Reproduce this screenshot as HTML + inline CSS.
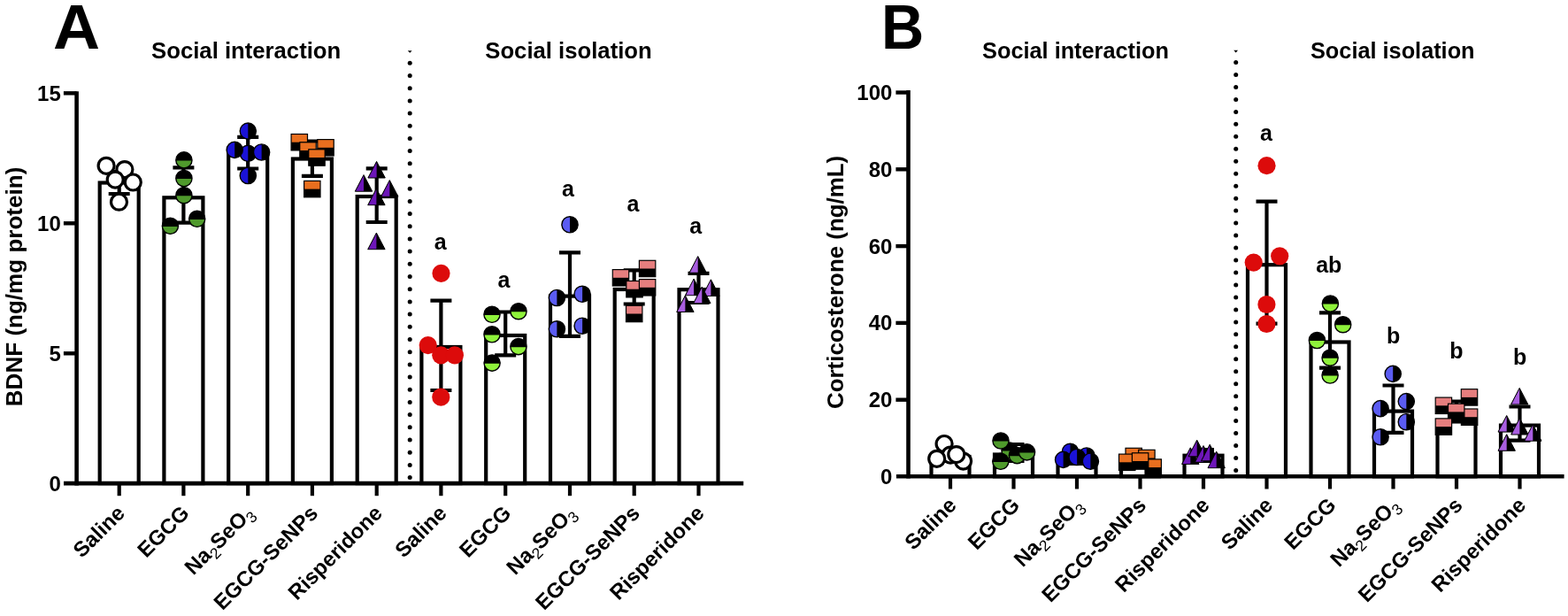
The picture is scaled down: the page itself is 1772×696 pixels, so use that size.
<!DOCTYPE html>
<html><head><meta charset="utf-8"><title>BDNF and corticosterone</title>
<style>html,body{margin:0;padding:0;background:#fff;}body{width:1772px;height:696px;overflow:hidden;}svg{display:block;}</style>
</head><body>
<svg width="1772" height="696" viewBox="0 0 1772 696">
<rect width="1772" height="696" fill="#fff"/>
<text transform="translate(60.1,55.0) scale(1.035,1)" font-size="71" font-family="'Liberation Sans', Arial, Helvetica, sans-serif" font-weight="bold">A</text>
<text x="171.1" y="65.6" font-size="25.7" text-anchor="start" font-family="'Liberation Sans', Arial, Helvetica, sans-serif" font-weight="bold" >Social interaction</text>
<text x="548.3" y="66.1" font-size="25.7" text-anchor="start" font-family="'Liberation Sans', Arial, Helvetica, sans-serif" font-weight="bold" >Social isolation</text>
<text transform="translate(25.4,459.2) rotate(-90)" font-size="26.05" font-family="'Liberation Sans', Arial, Helvetica, sans-serif" font-weight="bold">BDNF (ng/mg protein)</text>
<path d="M460.8,57.2 H465.6 L463.2,59.8 Z" fill="#000"/>
<circle cx="463.2" cy="71.3" r="2.5" fill="#000"/>
<circle cx="463.2" cy="85.5" r="2.5" fill="#000"/>
<circle cx="463.2" cy="99.7" r="2.5" fill="#000"/>
<circle cx="463.2" cy="113.9" r="2.5" fill="#000"/>
<circle cx="463.2" cy="128.1" r="2.5" fill="#000"/>
<circle cx="463.2" cy="142.2" r="2.5" fill="#000"/>
<circle cx="463.2" cy="156.4" r="2.5" fill="#000"/>
<circle cx="463.2" cy="170.6" r="2.5" fill="#000"/>
<circle cx="463.2" cy="184.8" r="2.5" fill="#000"/>
<circle cx="463.2" cy="199.0" r="2.5" fill="#000"/>
<circle cx="463.2" cy="213.2" r="2.5" fill="#000"/>
<circle cx="463.2" cy="227.4" r="2.5" fill="#000"/>
<circle cx="463.2" cy="241.6" r="2.5" fill="#000"/>
<circle cx="463.2" cy="255.8" r="2.5" fill="#000"/>
<circle cx="463.2" cy="270.0" r="2.5" fill="#000"/>
<circle cx="463.2" cy="284.1" r="2.5" fill="#000"/>
<circle cx="463.2" cy="298.3" r="2.5" fill="#000"/>
<circle cx="463.2" cy="312.5" r="2.5" fill="#000"/>
<circle cx="463.2" cy="326.7" r="2.5" fill="#000"/>
<circle cx="463.2" cy="340.9" r="2.5" fill="#000"/>
<circle cx="463.2" cy="355.1" r="2.5" fill="#000"/>
<circle cx="463.2" cy="369.3" r="2.5" fill="#000"/>
<circle cx="463.2" cy="383.5" r="2.5" fill="#000"/>
<circle cx="463.2" cy="397.7" r="2.5" fill="#000"/>
<circle cx="463.2" cy="411.9" r="2.5" fill="#000"/>
<circle cx="463.2" cy="426.0" r="2.5" fill="#000"/>
<circle cx="463.2" cy="440.2" r="2.5" fill="#000"/>
<circle cx="463.2" cy="454.4" r="2.5" fill="#000"/>
<circle cx="463.2" cy="468.6" r="2.5" fill="#000"/>
<circle cx="463.2" cy="482.8" r="2.5" fill="#000"/>
<circle cx="463.2" cy="497.0" r="2.5" fill="#000"/>
<circle cx="463.2" cy="511.2" r="2.5" fill="#000"/>
<circle cx="463.2" cy="525.4" r="2.5" fill="#000"/>
<circle cx="463.2" cy="539.6" r="2.5" fill="#000"/>
<rect x="112.7" y="206.5" width="44.0" height="339.6" fill="#fff" stroke="#000" stroke-width="4.2"/>
<path d="M134.7,194.0 V219.0 M122.7,194.0 H146.7 M122.7,219.0 H146.7" stroke="#000" stroke-width="4.2" fill="none"/>
<circle cx="120.1" cy="187.3" r="9.0" fill="#fff" stroke="#000" stroke-width="3.2"/>
<circle cx="140.9" cy="191.6" r="9.0" fill="#fff" stroke="#000" stroke-width="3.2"/>
<circle cx="130.2" cy="203.1" r="9.0" fill="#fff" stroke="#000" stroke-width="3.2"/>
<circle cx="150.3" cy="206.0" r="9.0" fill="#fff" stroke="#000" stroke-width="3.2"/>
<circle cx="134.5" cy="228.2" r="9.0" fill="#fff" stroke="#000" stroke-width="3.2"/>
<rect x="185.4" y="223.3" width="44.0" height="322.8" fill="#fff" stroke="#000" stroke-width="4.2"/>
<path d="M207.4,189.3 V251.6 M195.4,189.3 H219.4 M195.4,251.6 H219.4" stroke="#000" stroke-width="4.2" fill="none"/>
<circle cx="207.9" cy="180.9" r="9.1" fill="#000"/>
<path d="M198.82,181.5 A9.1,9.1 0 0 0 216.98,181.5 Z" fill="#4f9a2c"/>
<circle cx="207.9" cy="180.9" r="9.1" fill="none" stroke="#000" stroke-width="1.4"/>
<circle cx="207.9" cy="201.5" r="9.1" fill="#000"/>
<path d="M198.82,202.1 A9.1,9.1 0 0 0 216.98,202.1 Z" fill="#4f9a2c"/>
<circle cx="207.9" cy="201.5" r="9.1" fill="none" stroke="#000" stroke-width="1.4"/>
<circle cx="207.9" cy="220.7" r="9.1" fill="#000"/>
<path d="M198.82,221.3 A9.1,9.1 0 0 0 216.98,221.3 Z" fill="#4f9a2c"/>
<circle cx="207.9" cy="220.7" r="9.1" fill="none" stroke="#000" stroke-width="1.4"/>
<circle cx="222.7" cy="247.3" r="9.1" fill="#000"/>
<path d="M213.62,247.9 A9.1,9.1 0 0 0 231.78,247.9 Z" fill="#4f9a2c"/>
<circle cx="222.7" cy="247.3" r="9.1" fill="none" stroke="#000" stroke-width="1.4"/>
<circle cx="192.4" cy="255.3" r="9.1" fill="#000"/>
<path d="M183.32,255.9 A9.1,9.1 0 0 0 201.48,255.9 Z" fill="#4f9a2c"/>
<circle cx="192.4" cy="255.3" r="9.1" fill="none" stroke="#000" stroke-width="1.4"/>
<rect x="258.2" y="172.7" width="44.0" height="373.4" fill="#fff" stroke="#000" stroke-width="4.2"/>
<path d="M280.2,154.9 V190.5 M268.2,154.9 H292.2 M268.2,190.5 H292.2" stroke="#000" stroke-width="4.2" fill="none"/>
<circle cx="280.3" cy="148.1" r="9.1" fill="#000"/>
<path d="M280.3,139.0 A9.1,9.1 0 0 0 280.3,157.2 Z" fill="#1a12d6"/>
<circle cx="280.3" cy="148.1" r="9.1" fill="none" stroke="#000" stroke-width="1.4"/>
<circle cx="280.3" cy="173.3" r="9.1" fill="#000"/>
<path d="M280.3,164.2 A9.1,9.1 0 0 0 280.3,182.4 Z" fill="#1a12d6"/>
<circle cx="280.3" cy="173.3" r="9.1" fill="none" stroke="#000" stroke-width="1.4"/>
<circle cx="265.2" cy="169.4" r="9.1" fill="#000"/>
<path d="M265.2,160.3 A9.1,9.1 0 0 0 265.2,178.5 Z" fill="#1a12d6"/>
<circle cx="265.2" cy="169.4" r="9.1" fill="none" stroke="#000" stroke-width="1.4"/>
<circle cx="295.6" cy="172.0" r="9.1" fill="#000"/>
<path d="M295.6,162.9 A9.1,9.1 0 0 0 295.6,181.1 Z" fill="#1a12d6"/>
<circle cx="295.6" cy="172.0" r="9.1" fill="none" stroke="#000" stroke-width="1.4"/>
<circle cx="280.3" cy="198.5" r="9.1" fill="#000"/>
<path d="M280.3,189.4 A9.1,9.1 0 0 0 280.3,207.6 Z" fill="#1a12d6"/>
<circle cx="280.3" cy="198.5" r="9.1" fill="none" stroke="#000" stroke-width="1.4"/>
<rect x="330.9" y="179.5" width="44.0" height="366.6" fill="#fff" stroke="#000" stroke-width="4.2"/>
<path d="M352.9,159.5 V198.8 M340.9,159.5 H364.9 M340.9,198.8 H364.9" stroke="#000" stroke-width="4.2" fill="none"/>
<rect x="329.1" y="151.5" width="18.4" height="18.4" fill="#000" stroke="#000" stroke-width="1.2"/>
<rect x="329.70" y="152.10" width="17.20" height="8.60" fill="#e96f1f"/>
<rect x="358.8" y="157.6" width="18.4" height="18.4" fill="#000" stroke="#000" stroke-width="1.2"/>
<rect x="359.40" y="158.20" width="17.20" height="8.60" fill="#e96f1f"/>
<rect x="338.8" y="160.8" width="18.4" height="18.4" fill="#000" stroke="#000" stroke-width="1.2"/>
<rect x="339.40" y="161.40" width="17.20" height="8.60" fill="#e96f1f"/>
<rect x="348.8" y="168.8" width="18.4" height="18.4" fill="#000" stroke="#000" stroke-width="1.2"/>
<rect x="349.40" y="169.40" width="17.20" height="8.60" fill="#e96f1f"/>
<rect x="343.6" y="204.4" width="18.4" height="18.4" fill="#000" stroke="#000" stroke-width="1.2"/>
<rect x="344.20" y="205.00" width="17.20" height="8.60" fill="#e96f1f"/>
<rect x="403.7" y="222.0" width="44.0" height="324.1" fill="#fff" stroke="#000" stroke-width="4.2"/>
<path d="M425.7,190.3 V251.0 M413.7,190.3 H437.7 M413.7,251.0 H437.7" stroke="#000" stroke-width="4.2" fill="none"/>
<path d="M425.6,182.4 L415.9,201.0 L435.3,201.0 Z" fill="#000" stroke="#000" stroke-width="1.0"/>
<path d="M425.6,183.4 L416.8,200.5 L425.6,200.5 Z" fill="#6d16b8"/>
<path d="M411.0,197.6 L401.3,216.2 L420.7,216.2 Z" fill="#000" stroke="#000" stroke-width="1.0"/>
<path d="M411.0,198.6 L402.2,215.7 L411.0,215.7 Z" fill="#6d16b8"/>
<path d="M440.3,203.6 L430.6,222.2 L450.0,222.2 Z" fill="#000" stroke="#000" stroke-width="1.0"/>
<path d="M440.3,204.6 L431.5,221.7 L440.3,221.7 Z" fill="#6d16b8"/>
<path d="M425.4,213.1 L415.7,231.7 L435.1,231.7 Z" fill="#000" stroke="#000" stroke-width="1.0"/>
<path d="M425.4,214.1 L416.6,231.2 L425.4,231.2 Z" fill="#6d16b8"/>
<path d="M425.4,263.1 L415.7,281.7 L435.1,281.7 Z" fill="#000" stroke="#000" stroke-width="1.0"/>
<path d="M425.4,264.1 L416.6,281.2 L425.4,281.2 Z" fill="#6d16b8"/>
<rect x="476.4" y="392.0" width="44.0" height="154.1" fill="#fff" stroke="#000" stroke-width="4.2"/>
<path d="M498.4,339.7 V441.0 M486.4,339.7 H510.4 M486.4,441.0 H510.4" stroke="#000" stroke-width="4.2" fill="none"/>
<circle cx="498.5" cy="308.8" r="10.1" fill="#dc0b0b"/>
<circle cx="483.7" cy="390.1" r="10.1" fill="#dc0b0b"/>
<circle cx="498.3" cy="401.3" r="10.1" fill="#dc0b0b"/>
<circle cx="513.9" cy="401.3" r="10.1" fill="#dc0b0b"/>
<circle cx="498.3" cy="448.7" r="10.1" fill="#dc0b0b"/>
<rect x="549.2" y="379.0" width="44.0" height="167.1" fill="#fff" stroke="#000" stroke-width="4.2"/>
<path d="M571.2,352.5 V401.3 M559.2,352.5 H583.2 M559.2,401.3 H583.2" stroke="#000" stroke-width="4.2" fill="none"/>
<circle cx="586.0" cy="351.7" r="9.1" fill="#000"/>
<path d="M576.92,352.3 A9.1,9.1 0 0 0 595.08,352.3 Z" fill="#8ff23b"/>
<circle cx="586.0" cy="351.7" r="9.1" fill="none" stroke="#000" stroke-width="1.4"/>
<circle cx="556.0" cy="355.3" r="9.1" fill="#000"/>
<path d="M546.92,355.9 A9.1,9.1 0 0 0 565.08,355.9 Z" fill="#8ff23b"/>
<circle cx="556.0" cy="355.3" r="9.1" fill="none" stroke="#000" stroke-width="1.4"/>
<circle cx="556.0" cy="377.8" r="9.1" fill="#000"/>
<path d="M546.92,378.4 A9.1,9.1 0 0 0 565.08,378.4 Z" fill="#8ff23b"/>
<circle cx="556.0" cy="377.8" r="9.1" fill="none" stroke="#000" stroke-width="1.4"/>
<circle cx="585.9" cy="391.6" r="9.1" fill="#000"/>
<path d="M576.82,392.2 A9.1,9.1 0 0 0 594.98,392.2 Z" fill="#8ff23b"/>
<circle cx="585.9" cy="391.6" r="9.1" fill="none" stroke="#000" stroke-width="1.4"/>
<circle cx="556.1" cy="410.1" r="9.1" fill="#000"/>
<path d="M547.02,410.7 A9.1,9.1 0 0 0 565.18,410.7 Z" fill="#8ff23b"/>
<circle cx="556.1" cy="410.1" r="9.1" fill="none" stroke="#000" stroke-width="1.4"/>
<rect x="622.0" y="334.6" width="44.0" height="211.5" fill="#fff" stroke="#000" stroke-width="4.2"/>
<path d="M644.0,285.4 V379.9 M632.0,285.4 H656.0 M632.0,379.9 H656.0" stroke="#000" stroke-width="4.2" fill="none"/>
<circle cx="644.0" cy="253.8" r="9.1" fill="#000"/>
<path d="M644.0,244.7 A9.1,9.1 0 0 0 644.0,262.9 Z" fill="#5b5cf2"/>
<circle cx="644.0" cy="253.8" r="9.1" fill="none" stroke="#000" stroke-width="1.4"/>
<circle cx="658.1" cy="332.3" r="9.1" fill="#000"/>
<path d="M658.1,323.2 A9.1,9.1 0 0 0 658.1,341.4 Z" fill="#5b5cf2"/>
<circle cx="658.1" cy="332.3" r="9.1" fill="none" stroke="#000" stroke-width="1.4"/>
<circle cx="629.4" cy="336.5" r="9.1" fill="#000"/>
<path d="M629.4,327.4 A9.1,9.1 0 0 0 629.4,345.6 Z" fill="#5b5cf2"/>
<circle cx="629.4" cy="336.5" r="9.1" fill="none" stroke="#000" stroke-width="1.4"/>
<circle cx="658.1" cy="368.2" r="9.1" fill="#000"/>
<path d="M658.1,359.1 A9.1,9.1 0 0 0 658.1,377.3 Z" fill="#5b5cf2"/>
<circle cx="658.1" cy="368.2" r="9.1" fill="none" stroke="#000" stroke-width="1.4"/>
<circle cx="629.4" cy="371.8" r="9.1" fill="#000"/>
<path d="M629.4,362.7 A9.1,9.1 0 0 0 629.4,380.9 Z" fill="#5b5cf2"/>
<circle cx="629.4" cy="371.8" r="9.1" fill="none" stroke="#000" stroke-width="1.4"/>
<rect x="694.7" y="327.0" width="44.0" height="219.1" fill="#fff" stroke="#000" stroke-width="4.2"/>
<path d="M716.7,305.3 V343.5 M704.7,305.3 H728.7 M704.7,343.5 H728.7" stroke="#000" stroke-width="4.2" fill="none"/>
<rect x="722.4" y="294.3" width="18.4" height="18.4" fill="#000" stroke="#000" stroke-width="1.2"/>
<rect x="723.00" y="294.90" width="17.20" height="8.60" fill="#e67e7e"/>
<rect x="692.3" y="304.6" width="18.4" height="18.4" fill="#000" stroke="#000" stroke-width="1.2"/>
<rect x="692.90" y="305.20" width="17.20" height="8.60" fill="#e67e7e"/>
<rect x="707.8" y="317.5" width="18.4" height="18.4" fill="#000" stroke="#000" stroke-width="1.2"/>
<rect x="708.40" y="318.10" width="17.20" height="8.60" fill="#e67e7e"/>
<rect x="722.4" y="315.6" width="18.4" height="18.4" fill="#000" stroke="#000" stroke-width="1.2"/>
<rect x="723.00" y="316.20" width="17.20" height="8.60" fill="#e67e7e"/>
<rect x="707.5" y="345.3" width="18.4" height="18.4" fill="#000" stroke="#000" stroke-width="1.2"/>
<rect x="708.10" y="345.90" width="17.20" height="8.60" fill="#e67e7e"/>
<rect x="767.5" y="327.2" width="44.0" height="218.9" fill="#fff" stroke="#000" stroke-width="4.2"/>
<path d="M789.5,308.8 V342.0 M777.5,308.8 H801.5 M777.5,342.0 H801.5" stroke="#000" stroke-width="4.2" fill="none"/>
<path d="M788.7,289.6 L779.0,308.2 L798.4,308.2 Z" fill="#000" stroke="#000" stroke-width="1.0"/>
<path d="M788.7,290.6 L779.9,307.7 L788.7,307.7 Z" fill="#a95ee0"/>
<path d="M784.1,315.1 L774.4,333.7 L793.8,333.7 Z" fill="#000" stroke="#000" stroke-width="1.0"/>
<path d="M784.1,316.1 L775.3,333.2 L784.1,333.2 Z" fill="#a95ee0"/>
<path d="M803.4,315.8 L793.7,334.4 L813.1,334.4 Z" fill="#000" stroke="#000" stroke-width="1.0"/>
<path d="M803.4,316.8 L794.6,333.9 L803.4,333.9 Z" fill="#a95ee0"/>
<path d="M793.3,324.1 L783.6,342.7 L803.0,342.7 Z" fill="#000" stroke="#000" stroke-width="1.0"/>
<path d="M793.3,325.1 L784.5,342.2 L793.3,342.2 Z" fill="#a95ee0"/>
<path d="M774.4,333.9 L764.7,352.5 L784.1,352.5 Z" fill="#000" stroke="#000" stroke-width="1.0"/>
<path d="M774.4,334.9 L765.6,352.0 L774.4,352.0 Z" fill="#a95ee0"/>
<path d="M86.6,103.3 V548.4" stroke="#000" stroke-width="4.6" fill="none"/>
<path d="M72,546.1 H840.2" stroke="#000" stroke-width="4.6" fill="none"/>
<path d="M71.9,105.3 H86.6" stroke="#000" stroke-width="4.4" fill="none"/>
<path d="M71.9,252.3 H86.6" stroke="#000" stroke-width="4.4" fill="none"/>
<path d="M71.9,399.3 H86.6" stroke="#000" stroke-width="4.4" fill="none"/>
<path d="M134.7,546.1 V560.2" stroke="#000" stroke-width="4.2" fill="none"/>
<path d="M207.4,546.1 V560.2" stroke="#000" stroke-width="4.2" fill="none"/>
<path d="M280.2,546.1 V560.2" stroke="#000" stroke-width="4.2" fill="none"/>
<path d="M352.9,546.1 V560.2" stroke="#000" stroke-width="4.2" fill="none"/>
<path d="M425.7,546.1 V560.2" stroke="#000" stroke-width="4.2" fill="none"/>
<path d="M498.4,546.1 V560.2" stroke="#000" stroke-width="4.2" fill="none"/>
<path d="M571.2,546.1 V560.2" stroke="#000" stroke-width="4.2" fill="none"/>
<path d="M644.0,546.1 V560.2" stroke="#000" stroke-width="4.2" fill="none"/>
<path d="M716.7,546.1 V560.2" stroke="#000" stroke-width="4.2" fill="none"/>
<path d="M789.5,546.1 V560.2" stroke="#000" stroke-width="4.2" fill="none"/>
<text x="68.8" y="113.8" font-size="24" text-anchor="end" font-family="'Liberation Sans', Arial, Helvetica, sans-serif" font-weight="bold" >15</text>
<text x="68.8" y="260.8" font-size="24" text-anchor="end" font-family="'Liberation Sans', Arial, Helvetica, sans-serif" font-weight="bold" >10</text>
<text x="68.8" y="407.8" font-size="24" text-anchor="end" font-family="'Liberation Sans', Arial, Helvetica, sans-serif" font-weight="bold" >5</text>
<text x="68.8" y="554.8" font-size="24" text-anchor="end" font-family="'Liberation Sans', Arial, Helvetica, sans-serif" font-weight="bold" >0</text>
<text x="490.8" y="282.0" font-size="25" text-anchor="start" font-family="'Liberation Sans', Arial, Helvetica, sans-serif" font-weight="bold" >a</text>
<text x="562.6" y="324.5" font-size="25" text-anchor="start" font-family="'Liberation Sans', Arial, Helvetica, sans-serif" font-weight="bold" >a</text>
<text x="635.0" y="222.0" font-size="25" text-anchor="start" font-family="'Liberation Sans', Arial, Helvetica, sans-serif" font-weight="bold" >a</text>
<text x="708.6" y="239.1" font-size="25" text-anchor="start" font-family="'Liberation Sans', Arial, Helvetica, sans-serif" font-weight="bold" >a</text>
<text x="779.2" y="264.1" font-size="25" text-anchor="start" font-family="'Liberation Sans', Arial, Helvetica, sans-serif" font-weight="bold" >a</text>
<text transform="translate(142.5,581.2) rotate(-45)" font-size="24" text-anchor="end" font-family="'Liberation Sans', Arial, Helvetica, sans-serif" font-weight="bold">Saline</text>
<text transform="translate(215.2,581.2) rotate(-45)" font-size="24" text-anchor="end" font-family="'Liberation Sans', Arial, Helvetica, sans-serif" font-weight="bold">EGCG</text>
<text transform="translate(288.0,581.2) rotate(-45)" font-size="24" text-anchor="end" font-family="'Liberation Sans', Arial, Helvetica, sans-serif" font-weight="bold">Na<tspan font-weight="normal" font-size="17.5" dy="5.5">2</tspan><tspan dy="-5.5">SeO</tspan><tspan font-weight="normal" font-size="17.5" dy="5.5">3</tspan></text>
<text transform="translate(360.8,581.2) rotate(-45)" font-size="24" text-anchor="end" font-family="'Liberation Sans', Arial, Helvetica, sans-serif" font-weight="bold">EGCG-SeNPs</text>
<text transform="translate(433.5,581.2) rotate(-45)" font-size="24" text-anchor="end" font-family="'Liberation Sans', Arial, Helvetica, sans-serif" font-weight="bold">Risperidone</text>
<text transform="translate(506.2,581.2) rotate(-45)" font-size="24" text-anchor="end" font-family="'Liberation Sans', Arial, Helvetica, sans-serif" font-weight="bold">Saline</text>
<text transform="translate(579.0,581.2) rotate(-45)" font-size="24" text-anchor="end" font-family="'Liberation Sans', Arial, Helvetica, sans-serif" font-weight="bold">EGCG</text>
<text transform="translate(651.8,581.2) rotate(-45)" font-size="24" text-anchor="end" font-family="'Liberation Sans', Arial, Helvetica, sans-serif" font-weight="bold">Na<tspan font-weight="normal" font-size="17.5" dy="5.5">2</tspan><tspan dy="-5.5">SeO</tspan><tspan font-weight="normal" font-size="17.5" dy="5.5">3</tspan></text>
<text transform="translate(724.5,581.2) rotate(-45)" font-size="24" text-anchor="end" font-family="'Liberation Sans', Arial, Helvetica, sans-serif" font-weight="bold">EGCG-SeNPs</text>
<text transform="translate(797.2,581.2) rotate(-45)" font-size="24" text-anchor="end" font-family="'Liberation Sans', Arial, Helvetica, sans-serif" font-weight="bold">Risperidone</text>
<text transform="translate(996.1,55.0) scale(0.94,1)" font-size="71" font-family="'Liberation Sans', Arial, Helvetica, sans-serif" font-weight="bold">B</text>
<text x="1110.1" y="65.6" font-size="25.3" text-anchor="start" font-family="'Liberation Sans', Arial, Helvetica, sans-serif" font-weight="bold" >Social interaction</text>
<text x="1481.0" y="66.0" font-size="25.3" text-anchor="start" font-family="'Liberation Sans', Arial, Helvetica, sans-serif" font-weight="bold" >Social isolation</text>
<text transform="translate(953.0,462.0) rotate(-90)" font-size="25.9" font-family="'Liberation Sans', Arial, Helvetica, sans-serif" font-weight="bold">Corticosterone (ng/mL)</text>
<path d="M1394.2,56.8 H1399.0 L1396.6,59.4 Z" fill="#000"/>
<circle cx="1396.7" cy="70.5" r="2.5" fill="#000"/>
<circle cx="1396.7" cy="84.5" r="2.5" fill="#000"/>
<circle cx="1396.7" cy="98.4" r="2.5" fill="#000"/>
<circle cx="1396.7" cy="112.4" r="2.5" fill="#000"/>
<circle cx="1396.7" cy="126.4" r="2.5" fill="#000"/>
<circle cx="1396.7" cy="140.3" r="2.5" fill="#000"/>
<circle cx="1396.7" cy="154.3" r="2.5" fill="#000"/>
<circle cx="1396.7" cy="168.3" r="2.5" fill="#000"/>
<circle cx="1396.7" cy="182.3" r="2.5" fill="#000"/>
<circle cx="1396.7" cy="196.2" r="2.5" fill="#000"/>
<circle cx="1396.7" cy="210.2" r="2.5" fill="#000"/>
<circle cx="1396.7" cy="224.2" r="2.5" fill="#000"/>
<circle cx="1396.7" cy="238.1" r="2.5" fill="#000"/>
<circle cx="1396.7" cy="252.1" r="2.5" fill="#000"/>
<circle cx="1396.7" cy="266.1" r="2.5" fill="#000"/>
<circle cx="1396.7" cy="280.1" r="2.5" fill="#000"/>
<circle cx="1396.7" cy="294.0" r="2.5" fill="#000"/>
<circle cx="1396.7" cy="308.0" r="2.5" fill="#000"/>
<circle cx="1396.7" cy="322.0" r="2.5" fill="#000"/>
<circle cx="1396.7" cy="335.9" r="2.5" fill="#000"/>
<circle cx="1396.7" cy="349.9" r="2.5" fill="#000"/>
<circle cx="1396.7" cy="363.9" r="2.5" fill="#000"/>
<circle cx="1396.7" cy="377.8" r="2.5" fill="#000"/>
<circle cx="1396.7" cy="391.8" r="2.5" fill="#000"/>
<circle cx="1396.7" cy="405.8" r="2.5" fill="#000"/>
<circle cx="1396.7" cy="419.8" r="2.5" fill="#000"/>
<circle cx="1396.7" cy="433.7" r="2.5" fill="#000"/>
<circle cx="1396.7" cy="447.7" r="2.5" fill="#000"/>
<circle cx="1396.7" cy="461.7" r="2.5" fill="#000"/>
<circle cx="1396.7" cy="475.6" r="2.5" fill="#000"/>
<circle cx="1396.7" cy="489.6" r="2.5" fill="#000"/>
<circle cx="1396.7" cy="503.6" r="2.5" fill="#000"/>
<circle cx="1396.7" cy="517.5" r="2.5" fill="#000"/>
<circle cx="1396.7" cy="531.5" r="2.5" fill="#000"/>
<rect x="1052.5" y="516.0" width="43.0" height="22.3" fill="#fff" stroke="#000" stroke-width="4.2"/>
<path d="M1074.0,511.0 V521.0 M1062.0,511.0 H1086.0 M1062.0,521.0 H1086.0" stroke="#000" stroke-width="4.2" fill="none"/>
<circle cx="1067.1" cy="501.5" r="9.0" fill="#fff" stroke="#000" stroke-width="3.2"/>
<circle cx="1088.6" cy="521.1" r="9.0" fill="#fff" stroke="#000" stroke-width="3.2"/>
<circle cx="1074.1" cy="514.1" r="9.0" fill="#fff" stroke="#000" stroke-width="3.2"/>
<circle cx="1058.7" cy="518.3" r="9.0" fill="#fff" stroke="#000" stroke-width="3.2"/>
<circle cx="1080.8" cy="513.6" r="9.0" fill="#fff" stroke="#000" stroke-width="3.2"/>
<rect x="1124.0" y="513.5" width="43.0" height="24.8" fill="#fff" stroke="#000" stroke-width="4.2"/>
<path d="M1145.5,502.0 V521.0 M1133.5,502.0 H1157.5 M1133.5,521.0 H1157.5" stroke="#000" stroke-width="4.2" fill="none"/>
<circle cx="1141.0" cy="509.0" r="9.1" fill="#000"/>
<path d="M1131.92,509.6 A9.1,9.1 0 0 0 1150.08,509.6 Z" fill="#4f9a2c"/>
<circle cx="1141.0" cy="509.0" r="9.1" fill="none" stroke="#000" stroke-width="1.4"/>
<circle cx="1149.4" cy="514.6" r="9.1" fill="#000"/>
<path d="M1140.32,515.2 A9.1,9.1 0 0 0 1158.48,515.2 Z" fill="#4f9a2c"/>
<circle cx="1149.4" cy="514.6" r="9.1" fill="none" stroke="#000" stroke-width="1.4"/>
<circle cx="1160.5" cy="510.9" r="9.1" fill="#000"/>
<path d="M1151.42,511.5 A9.1,9.1 0 0 0 1169.58,511.5 Z" fill="#4f9a2c"/>
<circle cx="1160.5" cy="510.9" r="9.1" fill="none" stroke="#000" stroke-width="1.4"/>
<circle cx="1131.0" cy="498.0" r="9.1" fill="#000"/>
<path d="M1121.92,498.6 A9.1,9.1 0 0 0 1140.08,498.6 Z" fill="#4f9a2c"/>
<circle cx="1131.0" cy="498.0" r="9.1" fill="none" stroke="#000" stroke-width="1.4"/>
<circle cx="1130.8" cy="521.3" r="9.1" fill="#000"/>
<path d="M1121.72,521.9 A9.1,9.1 0 0 0 1139.88,521.9 Z" fill="#4f9a2c"/>
<circle cx="1130.8" cy="521.3" r="9.1" fill="none" stroke="#000" stroke-width="1.4"/>
<rect x="1195.5" y="518.0" width="43.0" height="20.3" fill="#fff" stroke="#000" stroke-width="4.2"/>
<path d="M1217.0,512.0 V524.0 M1205.0,512.0 H1229.0 M1205.0,524.0 H1229.0" stroke="#000" stroke-width="4.2" fill="none"/>
<circle cx="1228.0" cy="515.0" r="9.1" fill="#000"/>
<path d="M1228.0,505.9 A9.1,9.1 0 0 0 1228.0,524.1 Z" fill="#1a12d6"/>
<circle cx="1228.0" cy="515.0" r="9.1" fill="none" stroke="#000" stroke-width="1.4"/>
<circle cx="1209.5" cy="510.3" r="9.1" fill="#000"/>
<path d="M1209.5,501.2 A9.1,9.1 0 0 0 1209.5,519.4 Z" fill="#1a12d6"/>
<circle cx="1209.5" cy="510.3" r="9.1" fill="none" stroke="#000" stroke-width="1.4"/>
<circle cx="1201.6" cy="519.4" r="9.1" fill="#000"/>
<path d="M1201.6,510.3 A9.1,9.1 0 0 0 1201.6,528.5 Z" fill="#1a12d6"/>
<circle cx="1201.6" cy="519.4" r="9.1" fill="none" stroke="#000" stroke-width="1.4"/>
<circle cx="1217.1" cy="516.5" r="9.1" fill="#000"/>
<path d="M1217.1,507.4 A9.1,9.1 0 0 0 1217.1,525.6 Z" fill="#1a12d6"/>
<circle cx="1217.1" cy="516.5" r="9.1" fill="none" stroke="#000" stroke-width="1.4"/>
<circle cx="1232.4" cy="521.2" r="9.1" fill="#000"/>
<path d="M1232.4,512.1 A9.1,9.1 0 0 0 1232.4,530.3 Z" fill="#1a12d6"/>
<circle cx="1232.4" cy="521.2" r="9.1" fill="none" stroke="#000" stroke-width="1.4"/>
<rect x="1267.0" y="527.5" width="43.0" height="10.8" fill="#fff" stroke="#000" stroke-width="4.2"/>
<path d="M1288.5,518.0 V528.0 M1276.5,518.0 H1300.5 M1276.5,528.0 H1300.5" stroke="#000" stroke-width="4.2" fill="none"/>
<rect x="1272.0" y="506.3" width="18.4" height="18.4" fill="#000" stroke="#000" stroke-width="1.2"/>
<rect x="1272.60" y="506.90" width="17.20" height="8.60" fill="#e96f1f"/>
<rect x="1286.7" y="508.3" width="18.4" height="18.4" fill="#000" stroke="#000" stroke-width="1.2"/>
<rect x="1287.30" y="508.90" width="17.20" height="8.60" fill="#e96f1f"/>
<rect x="1264.5" y="513.1" width="18.4" height="18.4" fill="#000" stroke="#000" stroke-width="1.2"/>
<rect x="1265.10" y="513.70" width="17.20" height="8.60" fill="#e96f1f"/>
<rect x="1294.0" y="518.9" width="18.4" height="18.4" fill="#000" stroke="#000" stroke-width="1.2"/>
<rect x="1294.60" y="519.50" width="17.20" height="8.60" fill="#e96f1f"/>
<rect x="1279.4" y="511.8" width="18.4" height="18.4" fill="#000" stroke="#000" stroke-width="1.2"/>
<rect x="1280.00" y="512.40" width="17.20" height="8.60" fill="#e96f1f"/>
<rect x="1338.5" y="514.7" width="43.0" height="23.6" fill="#fff" stroke="#000" stroke-width="4.2"/>
<path d="M1360.0,508.0 V521.0 M1348.0,508.0 H1372.0 M1348.0,521.0 H1372.0" stroke="#000" stroke-width="4.2" fill="none"/>
<path d="M1345.3,505.8 L1335.6,524.4 L1355.0,524.4 Z" fill="#000" stroke="#000" stroke-width="1.0"/>
<path d="M1345.3,506.8 L1336.5,523.9 L1345.3,523.9 Z" fill="#6d16b8"/>
<path d="M1352.7,497.2 L1343.0,515.8 L1362.4,515.8 Z" fill="#000" stroke="#000" stroke-width="1.0"/>
<path d="M1352.7,498.2 L1343.9,515.3 L1352.7,515.3 Z" fill="#6d16b8"/>
<path d="M1360.0,503.6 L1350.3,522.2 L1369.7,522.2 Z" fill="#000" stroke="#000" stroke-width="1.0"/>
<path d="M1360.0,504.6 L1351.2,521.7 L1360.0,521.7 Z" fill="#6d16b8"/>
<path d="M1367.2,502.2 L1357.5,520.8 L1376.9,520.8 Z" fill="#000" stroke="#000" stroke-width="1.0"/>
<path d="M1367.2,503.2 L1358.4,520.3 L1367.2,520.3 Z" fill="#6d16b8"/>
<path d="M1374.7,510.1 L1365.0,528.7 L1384.4,528.7 Z" fill="#000" stroke="#000" stroke-width="1.0"/>
<path d="M1374.7,511.1 L1365.9,528.2 L1374.7,528.2 Z" fill="#6d16b8"/>
<rect x="1410.0" y="299.2" width="43.0" height="239.1" fill="#fff" stroke="#000" stroke-width="4.2"/>
<path d="M1431.5,227.6 V365.6 M1419.5,227.6 H1443.5 M1419.5,365.6 H1443.5" stroke="#000" stroke-width="4.2" fill="none"/>
<circle cx="1431.5" cy="187.2" r="10.1" fill="#dc0b0b"/>
<circle cx="1446.2" cy="289.3" r="10.1" fill="#dc0b0b"/>
<circle cx="1416.7" cy="296.6" r="10.1" fill="#dc0b0b"/>
<circle cx="1431.4" cy="344.0" r="10.1" fill="#dc0b0b"/>
<circle cx="1431.4" cy="366.0" r="10.1" fill="#dc0b0b"/>
<rect x="1481.5" y="386.5" width="43.0" height="151.8" fill="#fff" stroke="#000" stroke-width="4.2"/>
<path d="M1503.0,353.3 V415.7 M1491.0,353.3 H1515.0 M1491.0,415.7 H1515.0" stroke="#000" stroke-width="4.2" fill="none"/>
<circle cx="1503.4" cy="343.0" r="9.1" fill="#000"/>
<path d="M1494.32,343.6 A9.1,9.1 0 0 0 1512.48,343.6 Z" fill="#8ff23b"/>
<circle cx="1503.4" cy="343.0" r="9.1" fill="none" stroke="#000" stroke-width="1.4"/>
<circle cx="1517.7" cy="366.7" r="9.1" fill="#000"/>
<path d="M1508.62,367.3 A9.1,9.1 0 0 0 1526.78,367.3 Z" fill="#8ff23b"/>
<circle cx="1517.7" cy="366.7" r="9.1" fill="none" stroke="#000" stroke-width="1.4"/>
<circle cx="1488.4" cy="384.5" r="9.1" fill="#000"/>
<path d="M1479.32,385.1 A9.1,9.1 0 0 0 1497.48,385.1 Z" fill="#8ff23b"/>
<circle cx="1488.4" cy="384.5" r="9.1" fill="none" stroke="#000" stroke-width="1.4"/>
<circle cx="1503.1" cy="404.2" r="9.1" fill="#000"/>
<path d="M1494.02,404.8 A9.1,9.1 0 0 0 1512.18,404.8 Z" fill="#8ff23b"/>
<circle cx="1503.1" cy="404.2" r="9.1" fill="none" stroke="#000" stroke-width="1.4"/>
<circle cx="1503.1" cy="424.0" r="9.1" fill="#000"/>
<path d="M1494.02,424.6 A9.1,9.1 0 0 0 1512.18,424.6 Z" fill="#8ff23b"/>
<circle cx="1503.1" cy="424.0" r="9.1" fill="none" stroke="#000" stroke-width="1.4"/>
<rect x="1553.0" y="464.6" width="43.0" height="73.7" fill="#fff" stroke="#000" stroke-width="4.2"/>
<path d="M1574.5,435.5 V488.8 M1562.5,435.5 H1586.5 M1562.5,488.8 H1586.5" stroke="#000" stroke-width="4.2" fill="none"/>
<circle cx="1574.2" cy="422.4" r="9.1" fill="#000"/>
<path d="M1574.2,413.3 A9.1,9.1 0 0 0 1574.2,431.5 Z" fill="#5b5cf2"/>
<circle cx="1574.2" cy="422.4" r="9.1" fill="none" stroke="#000" stroke-width="1.4"/>
<circle cx="1589.3" cy="453.6" r="9.1" fill="#000"/>
<path d="M1589.3,444.5 A9.1,9.1 0 0 0 1589.3,462.7 Z" fill="#5b5cf2"/>
<circle cx="1589.3" cy="453.6" r="9.1" fill="none" stroke="#000" stroke-width="1.4"/>
<circle cx="1560.1" cy="461.6" r="9.1" fill="#000"/>
<path d="M1560.1,452.5 A9.1,9.1 0 0 0 1560.1,470.7 Z" fill="#5b5cf2"/>
<circle cx="1560.1" cy="461.6" r="9.1" fill="none" stroke="#000" stroke-width="1.4"/>
<circle cx="1589.3" cy="476.7" r="9.1" fill="#000"/>
<path d="M1589.3,467.6 A9.1,9.1 0 0 0 1589.3,485.8 Z" fill="#5b5cf2"/>
<circle cx="1589.3" cy="476.7" r="9.1" fill="none" stroke="#000" stroke-width="1.4"/>
<circle cx="1560.1" cy="493.8" r="9.1" fill="#000"/>
<path d="M1560.1,484.7 A9.1,9.1 0 0 0 1560.1,502.9 Z" fill="#5b5cf2"/>
<circle cx="1560.1" cy="493.8" r="9.1" fill="none" stroke="#000" stroke-width="1.4"/>
<rect x="1624.5" y="476.0" width="43.0" height="62.3" fill="#fff" stroke="#000" stroke-width="4.2"/>
<path d="M1646.0,453.5 V476.5 M1634.0,453.5 H1658.0 M1634.0,476.5 H1658.0" stroke="#000" stroke-width="4.2" fill="none"/>
<rect x="1651.3" y="439.7" width="18.4" height="18.4" fill="#000" stroke="#000" stroke-width="1.2"/>
<rect x="1651.90" y="440.30" width="17.20" height="8.60" fill="#e67e7e"/>
<rect x="1622.2" y="449.1" width="18.4" height="18.4" fill="#000" stroke="#000" stroke-width="1.2"/>
<rect x="1622.80" y="449.70" width="17.20" height="8.60" fill="#e67e7e"/>
<rect x="1651.4" y="462.0" width="18.4" height="18.4" fill="#000" stroke="#000" stroke-width="1.2"/>
<rect x="1652.00" y="462.60" width="17.20" height="8.60" fill="#e67e7e"/>
<rect x="1636.5" y="456.2" width="18.4" height="18.4" fill="#000" stroke="#000" stroke-width="1.2"/>
<rect x="1637.10" y="456.80" width="17.20" height="8.60" fill="#e67e7e"/>
<rect x="1622.2" y="472.9" width="18.4" height="18.4" fill="#000" stroke="#000" stroke-width="1.2"/>
<rect x="1622.80" y="473.50" width="17.20" height="8.60" fill="#e67e7e"/>
<rect x="1696.0" y="480.6" width="43.0" height="57.7" fill="#fff" stroke="#000" stroke-width="4.2"/>
<path d="M1717.5,459.5 V497.7 M1705.5,459.5 H1729.5 M1705.5,497.7 H1729.5" stroke="#000" stroke-width="4.2" fill="none"/>
<path d="M1717.2,438.4 L1707.5,457.0 L1726.9,457.0 Z" fill="#000" stroke="#000" stroke-width="1.0"/>
<path d="M1717.2,439.4 L1708.4,456.5 L1717.2,456.5 Z" fill="#a95ee0"/>
<path d="M1702.7,469.5 L1693.0,488.1 L1712.4,488.1 Z" fill="#000" stroke="#000" stroke-width="1.0"/>
<path d="M1702.7,470.5 L1693.9,487.6 L1702.7,487.6 Z" fill="#a95ee0"/>
<path d="M1717.4,472.4 L1707.7,491.0 L1727.1,491.0 Z" fill="#000" stroke="#000" stroke-width="1.0"/>
<path d="M1717.4,473.4 L1708.6,490.5 L1717.4,490.5 Z" fill="#a95ee0"/>
<path d="M1732.3,479.6 L1722.6,498.2 L1742.0,498.2 Z" fill="#000" stroke="#000" stroke-width="1.0"/>
<path d="M1732.3,480.6 L1723.5,497.7 L1732.3,497.7 Z" fill="#a95ee0"/>
<path d="M1702.7,490.7 L1693.0,509.3 L1712.4,509.3 Z" fill="#000" stroke="#000" stroke-width="1.0"/>
<path d="M1702.7,491.7 L1693.9,508.8 L1702.7,508.8 Z" fill="#a95ee0"/>
<path d="M1026.5,102.0 V540.5999999999999" stroke="#000" stroke-width="4.6" fill="none"/>
<path d="M1012.9,538.3 H1767.6" stroke="#000" stroke-width="4.6" fill="none"/>
<path d="M1012.4,104.5 H1026.5" stroke="#000" stroke-width="4.4" fill="none"/>
<path d="M1012.4,191.3 H1026.5" stroke="#000" stroke-width="4.4" fill="none"/>
<path d="M1012.4,278.1 H1026.5" stroke="#000" stroke-width="4.4" fill="none"/>
<path d="M1012.4,364.9 H1026.5" stroke="#000" stroke-width="4.4" fill="none"/>
<path d="M1012.4,451.7 H1026.5" stroke="#000" stroke-width="4.4" fill="none"/>
<path d="M1074.0,538.3 V552.5" stroke="#000" stroke-width="4.2" fill="none"/>
<path d="M1145.5,538.3 V552.5" stroke="#000" stroke-width="4.2" fill="none"/>
<path d="M1217.0,538.3 V552.5" stroke="#000" stroke-width="4.2" fill="none"/>
<path d="M1288.5,538.3 V552.5" stroke="#000" stroke-width="4.2" fill="none"/>
<path d="M1360.0,538.3 V552.5" stroke="#000" stroke-width="4.2" fill="none"/>
<path d="M1431.5,538.3 V552.5" stroke="#000" stroke-width="4.2" fill="none"/>
<path d="M1503.0,538.3 V552.5" stroke="#000" stroke-width="4.2" fill="none"/>
<path d="M1574.5,538.3 V552.5" stroke="#000" stroke-width="4.2" fill="none"/>
<path d="M1646.0,538.3 V552.5" stroke="#000" stroke-width="4.2" fill="none"/>
<path d="M1717.5,538.3 V552.5" stroke="#000" stroke-width="4.2" fill="none"/>
<text x="1008.4" y="113.0" font-size="24" text-anchor="end" font-family="'Liberation Sans', Arial, Helvetica, sans-serif" font-weight="bold" >100</text>
<text x="1008.4" y="199.8" font-size="24" text-anchor="end" font-family="'Liberation Sans', Arial, Helvetica, sans-serif" font-weight="bold" >80</text>
<text x="1008.4" y="286.6" font-size="24" text-anchor="end" font-family="'Liberation Sans', Arial, Helvetica, sans-serif" font-weight="bold" >60</text>
<text x="1008.4" y="373.4" font-size="24" text-anchor="end" font-family="'Liberation Sans', Arial, Helvetica, sans-serif" font-weight="bold" >40</text>
<text x="1008.4" y="460.2" font-size="24" text-anchor="end" font-family="'Liberation Sans', Arial, Helvetica, sans-serif" font-weight="bold" >20</text>
<text x="1008.4" y="547.0" font-size="24" text-anchor="end" font-family="'Liberation Sans', Arial, Helvetica, sans-serif" font-weight="bold" >0</text>
<text x="1424.0" y="159.4" font-size="25" text-anchor="start" font-family="'Liberation Sans', Arial, Helvetica, sans-serif" font-weight="bold" >a</text>
<text x="1487.2" y="307.6" font-size="25" text-anchor="start" font-family="'Liberation Sans', Arial, Helvetica, sans-serif" font-weight="bold" >ab</text>
<text x="1567.0" y="388.2" font-size="25" text-anchor="start" font-family="'Liberation Sans', Arial, Helvetica, sans-serif" font-weight="bold" >b</text>
<text x="1638.2" y="404.5" font-size="25" text-anchor="start" font-family="'Liberation Sans', Arial, Helvetica, sans-serif" font-weight="bold" >b</text>
<text x="1710.0" y="412.2" font-size="25" text-anchor="start" font-family="'Liberation Sans', Arial, Helvetica, sans-serif" font-weight="bold" >b</text>
<text transform="translate(1082.2,572.4) rotate(-45)" font-size="24" text-anchor="end" font-family="'Liberation Sans', Arial, Helvetica, sans-serif" font-weight="bold">Saline</text>
<text transform="translate(1153.7,572.4) rotate(-45)" font-size="24" text-anchor="end" font-family="'Liberation Sans', Arial, Helvetica, sans-serif" font-weight="bold">EGCG</text>
<text transform="translate(1225.2,572.4) rotate(-45)" font-size="24" text-anchor="end" font-family="'Liberation Sans', Arial, Helvetica, sans-serif" font-weight="bold">Na<tspan font-weight="normal" font-size="17.5" dy="5.5">2</tspan><tspan dy="-5.5">SeO</tspan><tspan font-weight="normal" font-size="17.5" dy="5.5">3</tspan></text>
<text transform="translate(1296.7,572.4) rotate(-45)" font-size="24" text-anchor="end" font-family="'Liberation Sans', Arial, Helvetica, sans-serif" font-weight="bold">EGCG-SeNPs</text>
<text transform="translate(1368.2,572.4) rotate(-45)" font-size="24" text-anchor="end" font-family="'Liberation Sans', Arial, Helvetica, sans-serif" font-weight="bold">Risperidone</text>
<text transform="translate(1439.7,572.4) rotate(-45)" font-size="24" text-anchor="end" font-family="'Liberation Sans', Arial, Helvetica, sans-serif" font-weight="bold">Saline</text>
<text transform="translate(1511.2,572.4) rotate(-45)" font-size="24" text-anchor="end" font-family="'Liberation Sans', Arial, Helvetica, sans-serif" font-weight="bold">EGCG</text>
<text transform="translate(1582.7,572.4) rotate(-45)" font-size="24" text-anchor="end" font-family="'Liberation Sans', Arial, Helvetica, sans-serif" font-weight="bold">Na<tspan font-weight="normal" font-size="17.5" dy="5.5">2</tspan><tspan dy="-5.5">SeO</tspan><tspan font-weight="normal" font-size="17.5" dy="5.5">3</tspan></text>
<text transform="translate(1654.2,572.4) rotate(-45)" font-size="24" text-anchor="end" font-family="'Liberation Sans', Arial, Helvetica, sans-serif" font-weight="bold">EGCG-SeNPs</text>
<text transform="translate(1725.7,572.4) rotate(-45)" font-size="24" text-anchor="end" font-family="'Liberation Sans', Arial, Helvetica, sans-serif" font-weight="bold">Risperidone</text>
</svg>
</body></html>
